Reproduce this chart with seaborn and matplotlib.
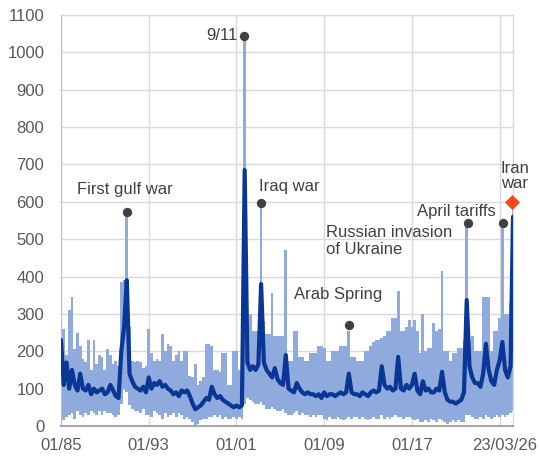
import numpy as np
import pandas as pd
import matplotlib
matplotlib.use("Agg")
import matplotlib.pyplot as plt
import matplotlib.transforms as mtransforms
import seaborn as sns

# ---------------- data (quarterly points) ----------------
dates = list(np.arange(1985, 2026.01, 0.25)) + [2026.22]

upper = [
    235, 260, 190, 310,   345, 205, 250, 215,   180, 170, 230, 150,   230, 165, 190, 185,
    150, 205, 190, 165,   175, 160, 385, 390,   575, 265, 175, 170,   175, 170, 155, 160,
    260, 195, 175, 180,   175, 245, 200, 220,   215, 175, 190, 200,   175, 200, 200, 135,
    130, 165, 110, 120,   130, 220, 220, 215,   150, 150, 145, 195,   195, 110, 110, 200,
    200, 150, 130, 1045,  250, 300, 255, 255,   255, 595, 280, 245,   245, 355, 240, 240,
    240, 240, 470, 175,   175, 255, 255, 185,   185, 175, 175, 195,   195, 195, 215, 215,
    210, 175, 175, 200,   200, 200, 215, 215,   215, 255, 185, 185,   175, 175, 175, 200,
    200, 215, 225, 230,   230, 235, 240, 255,   255, 290, 290, 360,   255, 255, 265, 285,
    265, 285, 255, 195,   300, 200, 210, 210,   275, 255, 260, 415,   200, 200, 175, 195,
    195, 210, 210, 230,   540, 230, 240, 200,   200, 200, 345, 345,   345, 200, 255, 255,
    290, 540, 300, 300,   330, 585,
]

mean = [
    230, 110, 170, 100,   150, 110, 95, 140,    100, 95, 110, 85,     100, 90, 95, 100,
    85, 90, 110, 95,      80, 75, 200, 265,     390, 140, 120, 105,   100, 95, 105, 90,
    130, 100, 115, 110,   120, 105, 110, 100,   95, 85, 90, 80,       95, 90, 95, 80,
    60, 45, 50, 55,       65, 75, 70, 105,      85, 75, 80, 70,       65, 60, 55, 50,
    55, 50, 55, 685,      170, 150, 160, 150,   165, 380, 170, 150,   140, 130, 155, 125,
    115, 110, 190, 100,   95, 90, 115, 100,     90, 85, 90, 85,       85, 80, 85, 75,
    90, 80, 85, 85,       80, 85, 90, 85,       90, 140, 90, 85,      85, 80, 90, 85,
    80, 90, 95, 90,       95, 160, 110, 100,    105, 95, 100, 185,    100, 95, 110, 100,
    110, 140, 95, 85,     120, 95, 100, 90,     90, 100, 95, 145,     90, 70, 65, 65,
    60, 65, 70, 90,       337, 160, 130, 115,   115, 105, 140, 220,   150, 120, 110, 150,
    175, 225, 150, 130,   160, 560,
]

lower = [
    30, 15, 25, 30,   35, 20, 40, 30,   25, 35, 30, 40,   35, 30, 40, 30,
    40, 35, 35, 30,   25, 30, 60, 100,  90, 55, 45, 40,   40, 35, 45, 30,
    30, 25, 40, 35,   30, 20, 35, 25,   30, 35, 25, 35,   30, 20, 25, 20,
    10, 0, 5, 15,     20, 20, 25, 25,   30, 25, 30, 20,   25, 20, 20, 25,
    20, 25, 20, 60,   75, 70, 65, 60,   60, 65, 55, 45,   45, 50, 45, 40,
    40, 45, 35, 30,   30, 35, 40, 30,   35, 30, 30, 25,   30, 25, 30, 30,
    20, 15, 25, 20,   20, 25, 20, 15,   20, 25, 20, 25,   25, 20, 25, 20,
    15, 20, 25, 20,   20, 30, 20, 25,   20, 25, 30, 25,   25, 20, 25, 25,
    20, 15, 20, 10,   10, 15, 10, 20,   15, 10, 20, 15,   10, 5, 10, 15,
    10, 15, 10, 10,   30, 30, 25, 20,   20, 25, 20, 30,   25, 20, 25, 30,
    25, 30, 25, 30,   35, 40,
]

event_x = [1991.0, 2001.69, 2003.24, 2011.26, 2022.11, 2025.3]
event_y = [572, 1045, 596, 270, 543, 543]
latest_x = [2026.15]
latest_y = [599]

x_ticks = [1985, 1993, 2001, 2009, 2017, 2025]
x_ticklabels = ["01/85", "01/93", "01/01", "01/09", "01/17", "23/03/26"]
y_ticks = list(range(0, 1101, 100))

# ---------------- plot ----------------
sns.set_style("white")
plt.rcParams["font.family"] = ["Liberation Sans", "DejaVu Sans"]

fig = plt.figure(figsize=(5.39, 4.58), dpi=100)
ax = fig.add_axes([61 / 539, 1 - 426 / 458, (513 - 61) / 539, (426 - 15) / 458])

df = pd.DataFrame({"date": dates, "mean": mean, "lower": lower, "upper": upper})

ax.fill_between(df["date"], df["lower"], df["upper"], step="mid",
                color="#8FAADC", lw=0, zorder=2)
sns.lineplot(data=df, x="date", y="mean", color="#0A3696", lw=3.0,
             ax=ax, zorder=3)

ax.scatter(event_x, event_y, s=45, color="#404040", zorder=5, lw=0)
ax.scatter(latest_x, latest_y, s=58, marker="D", color="#FF4513", zorder=5,
           lw=0, clip_on=False)

txt = dict(color="#404040", fontsize=12, zorder=6)
ax.text(2001.14, 1046, "9/11", ha="right", va="center", **txt)
ax.text(1990.84, 634, "First gulf war", ha="center", va="center", **txt)
ax.text(2003.06, 642, "Iraq war", ha="left", va="center", **txt)
ax.text(2009.17, 495, "Russian invasion\nof Ukraine", ha="left", va="center",
        linespacing=1.1, **txt)
ax.text(2010.26, 353, "Arab Spring", ha="center", va="center", **txt)
ax.text(2021.02, 575, "April tariffs", ha="center", va="center", **txt)
ax.text(2025.12, 669, "Iran\nwar", ha="left", va="center", linespacing=1.05, **txt)

ax.set_xlim(1985, 2026.22)
ax.set_ylim(0, 1100)
ax.set_xticks(x_ticks)
ax.set_xticklabels(x_ticklabels)
ax.set_yticks(y_ticks)
ax.set_xlabel("")
ax.set_ylabel("")

ax.grid(True, color="#D9D9D9", lw=1.0, zorder=0)
ax.set_axisbelow(True)
for side in ["top", "right"]:
    ax.spines[side].set_color("#D9D9D9")
    ax.spines[side].set_linewidth(1.0)
ax.spines["left"].set_color("#BFBFBF")
ax.spines["bottom"].set_color("#A6A6A6")
ax.spines["bottom"].set_linewidth(1.5)

ax.tick_params(axis="both", colors="#BFBFBF", labelcolor="#595959",
               labelsize=12, length=3)
ax.tick_params(axis="y", pad=9)
ax.tick_params(axis="x", pad=6)

lbl = ax.get_xticklabels()[-1]
lbl.set_transform(lbl.get_transform() +
                  mtransforms.ScaledTranslation(5.5 / 100, 0, fig.dpi_scale_trans))

fig.savefig("out.png", dpi=100)
